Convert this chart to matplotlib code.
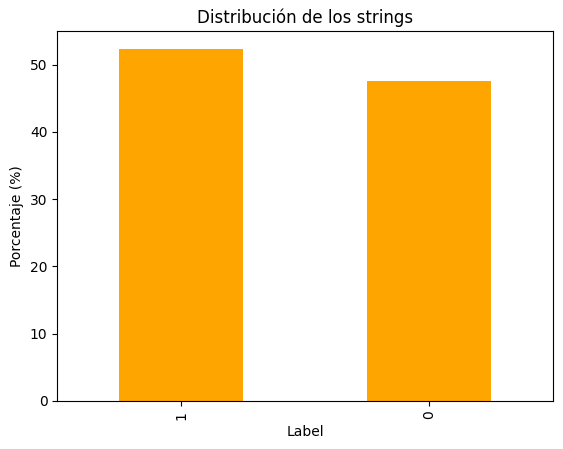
import matplotlib
matplotlib.use("Agg")
import matplotlib.pyplot as plt
import pandas as pd

labels = ["1", "0"]
percentages = [52.4, 47.6]

s = pd.Series(percentages, index=labels)
fig, ax = plt.subplots(figsize=(5.63, 4.49), dpi=100)
s.plot(kind="bar", color="orange", ax=ax)
ax.set_title("Distribución de los strings")
ax.set_xlabel("Label")
ax.set_ylabel("Porcentaje (%)")
fig.subplots_adjust(left=0.1015, right=0.9825, top=0.931, bottom=0.107)
fig.savefig("out.png", dpi=100)
